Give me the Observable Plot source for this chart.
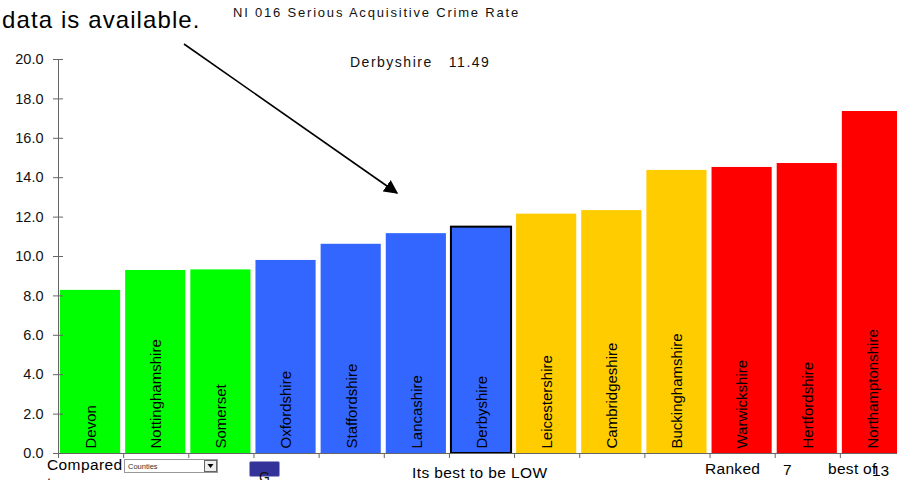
<!DOCTYPE html>
<html>
<head>
<meta charset="utf-8">
<script src="https://cdn.jsdelivr.net/npm/d3@7"></script>
<script src="https://cdn.jsdelivr.net/npm/@observablehq/plot@0.6"></script>
<style>
  html, body { margin: 0; padding: 0; background: #fff; }
  body { width: 897px; height: 480px; position: relative; overflow: hidden; font-family: "Liberation Sans", Arial, sans-serif; }
  #chart { position: absolute; left: 0; top: 0; }
  #chart svg { max-width: none !important; }
  #overlay { position: absolute; left: 0; top: 0; pointer-events: none; }
  #overlay text { white-space: pre; }
</style>
</head>
<body>
<div id="chart"></div>
<svg id="overlay" width="897" height="480" xmlns="http://www.w3.org/2000/svg">
  <defs>
    <marker id="head" viewBox="0 0 10 10" refX="9" refY="5" markerWidth="14" markerHeight="14" markerUnits="userSpaceOnUse" orient="auto">
      <path d="M0,0 L10,5 L0,10 z" fill="#000"/>
    </marker>
  </defs>
  <g font-family="Liberation Sans, Arial, sans-serif" fill="#000">
    <text x="2" y="28" font-size="24" letter-spacing="1.1">data is available.</text>
    <text x="233" y="17" font-size="13" letter-spacing="1.8" fill="#111">NI 016 Serious Acquisitive Crime Rate</text>
    <text x="350" y="67" font-size="14" letter-spacing="1.5" fill="#111" xml:space="preserve">Derbyshire   11.49</text>
    <line x1="184" y1="44" x2="397" y2="193" stroke="#000" stroke-width="1.6" marker-end="url(#head)"/>
    <text x="47" y="470" font-size="15.5" letter-spacing="0.4">Compared</text>
    <text x="47" y="488" font-size="15.5">to</text>
    <rect x="124.5" y="459.5" width="93" height="13" fill="#fff" stroke="#999"/>
    <text x="128" y="469" font-size="7.5" fill="#333">Counties</text>
    <rect x="204.5" y="460.5" width="12" height="11" fill="#eee" stroke="#666"/>
    <path d="M207.5,464 L213.5,464 L210.5,468 z" fill="#000"/>
    <rect x="249.5" y="461.5" width="30" height="15" rx="1.5" fill="#333399" stroke="#9999cc"/>
    <text x="259" y="482" font-size="14" fill="#111">G</text>
    <text x="412" y="478" font-size="15.5" letter-spacing="0.4">Its best to be LOW</text>
    <text x="705" y="474" font-size="15.5" letter-spacing="0.3">Ranked</text>
    <text x="783" y="475" font-size="15.5">7</text>
    <text x="828" y="474" font-size="15.5" letter-spacing="0.3">best of</text>
    <text x="872" y="476" font-size="15.5">13</text>
  </g>
</svg>
<script>
const counties = ["Devon","Nottinghamshire","Somerset","Oxfordshire","Staffordshire","Lancashire","Derbyshire","Leicestershire","Cambridgeshire","Buckinghamshire","Warwickshire","Hertfordshire","Northamptonshire"];
const rates = [8.28, 9.29, 9.32, 9.80, 10.62, 11.16, 11.49, 12.15, 12.33, 14.37, 14.52, 14.72, 17.36];
const quartiles = ["Q1","Q1","Q1","Q2","Q2","Q2","Q2","Q3","Q3","Q3","Q4","Q4","Q4"];
const quartileNames = ["Q1","Q2","Q3","Q4"];
const quartileColors = ["#00ff00","#3366ff","#ffcc00","#ff0000"];
const yTicks = [0, 2, 4, 6, 8, 10, 12, 14, 16, 18, 20];
const highlight = "Derbyshire";

const data = counties.map((county, i) => ({county, rate: rates[i], q: quartiles[i], i}));
const slotTicks = d3.range(0, counties.length + 1);

const chart = Plot.plot({
  width: 910,
  height: 480,
  marginLeft: 58,
  marginRight: 5,
  marginTop: 59,
  marginBottom: 27,
  style: {fontFamily: "Liberation Sans, Arial, sans-serif", background: "transparent", overflow: "visible", maxWidth: "none"},
  x: {domain: [0, counties.length]},
  y: {domain: [0, 20]},
  color: {domain: quartileNames, range: quartileColors},
  marks: [
    Plot.rectY(data, {x1: "i", x2: d => d.i + 1, y: "rate", fill: "q", insetLeft: 2, insetRight: 3}),
    Plot.rectY(data.filter(d => d.county === highlight), {x1: "i", x2: d => d.i + 1, y: "rate", fill: "none", stroke: "#000", strokeWidth: 2, insetLeft: 2, insetRight: 3}),
    Plot.text(data, {x: d => d.i + 0.5, y: 0, text: "county", rotate: -90, textAnchor: "start", lineAnchor: "middle", dy: -5, fontSize: 15, fill: "#000"}),
    Plot.ruleX([0], {stroke: "#666"}),
    Plot.ruleY([0], {stroke: "#666"}),
    Plot.axisY(yTicks, {tickSize: 10, dx: 5, text: null, stroke: "#666", label: null}),
    Plot.axisY(yTicks, {tickSize: 0, tickPadding: 15, tickFormat: d3.format(".1f"), fontSize: 14.5, fill: "#111", label: null, letterSpacing: "0.8px"}),
    Plot.axisX(slotTicks, {tickSize: 5, text: null, stroke: "#666", label: null})
  ]
});
document.getElementById("chart").appendChild(chart);
</script>
</body>
</html>
